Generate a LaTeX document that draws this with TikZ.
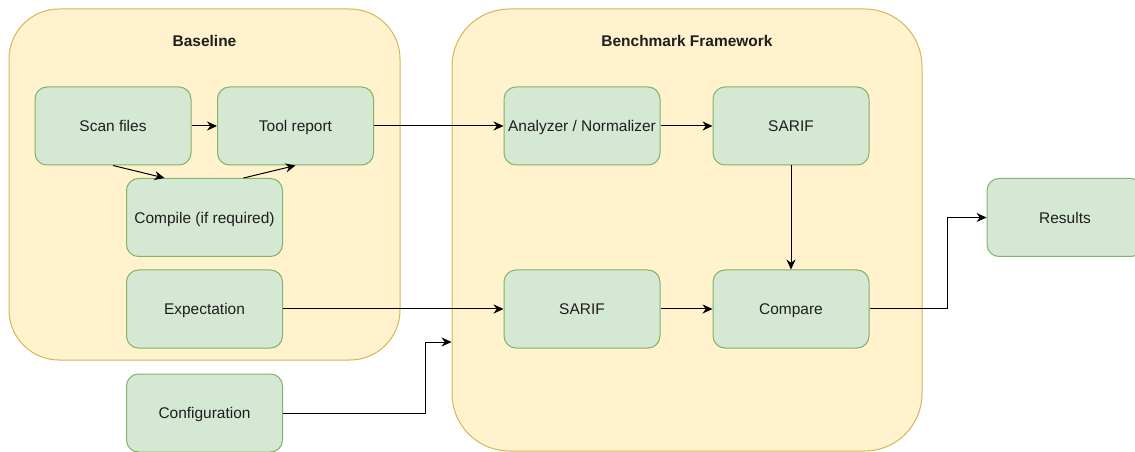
\documentclass[tikz,border=0pt]{standalone}
\usepackage{fontspec}
\setmainfont{Liberation Sans}
\usetikzlibrary{arrows.meta,calc}

\definecolor{groupfill}{HTML}{FFF2CC}
\definecolor{groupline}{HTML}{D6B656}
\definecolor{stepfill}{HTML}{D5E8D4}
\definecolor{stepline}{HTML}{82B366}
\definecolor{ink}{HTML}{1E1E1E}

\tikzset{
  group/.style={draw=groupline, fill=groupfill, line width=0.75pt,
    rectangle, inner sep=0pt},
  grouptitle/.style={font=\fontsize{11.6}{14}\selectfont\bfseries, text=ink,
    text height=10pt, text depth=1.4pt, inner sep=0pt},
  stepbox/.style={draw=stepline, fill=stepfill, line width=0.75pt,
    rectangle, rounded corners=9pt, minimum width=117pt,
    minimum height=58.5pt, inner sep=0pt,
    text height=10pt, text depth=1.4pt,
    font=\fontsize{11.6}{14}\selectfont, text=ink},
  arr/.style={draw=black, line width=0.75pt,
    -{Stealth[length=7.5pt,width=6.8pt]}},
}

\begin{document}
\begin{tikzpicture}[x=0.75pt,y=-0.75pt]
  \useasboundingbox (0,0) rectangle (1135,452);
  \clip (0,0) rectangle (1135,452);

  % containers
  \node[group, rounded corners=37.5pt, minimum width=293.25pt,
        minimum height=263.25pt] (baseline) at (204.5,184.5) {};
  \node[group, rounded corners=43pt, minimum width=352.5pt,
        minimum height=331.5pt] (bench) at (687,230) {};
  \node[grouptitle] (baselinetitle) at (204.5,41) {Baseline};
  \node[grouptitle] (benchtitle) at (687,41) {Benchmark Framework};

  % steps
  \node[stepbox] (scan)     at (113,126)   {Scan files};
  \node[stepbox] (tool)     at (295.5,126) {Tool report};
  \node[stepbox] (compile)  at (204.5,217.5) {Compile (if required)};
  \node[stepbox] (expect)   at (204.5,309) {Expectation};
  \node[stepbox] (config)   at (204.5,413) {Configuration};
  \node[stepbox] (analyzer) at (582,126)   {Analyzer / Normalizer};
  \node[stepbox] (sarifa)   at (791,126)   {SARIF};
  \node[stepbox] (sarifb)   at (582,309)   {SARIF};
  \node[stepbox] (compare)  at (791,309)   {Compare};
  \node[stepbox] (results)  at (1065,217.5) {Results};

  % entry point of the configuration into the framework
  \coordinate (benchin) at (bench.west |- 0,342);

  % connectors
  \draw[arr] (scan) -- (tool);
  \draw[arr] (scan.south) -- ($(compile.north)+(-40,0)$);
  \draw[arr] ($(compile.north)+(39,0)$) -- (tool.south);
  \draw[arr] (tool) -- (analyzer);
  \draw[arr] (analyzer) -- (sarifa);
  \draw[arr] (sarifa) -- (compare);
  \draw[arr] (expect) -- (sarifb);
  \draw[arr] (sarifb) -- (compare);
  \draw[arr] (compare.east) -| ($(results.west)+(-39,0)$) -- (results.west);
  \draw[arr] (config.east) -| ($(benchin)+(-26,0)$) -- (benchin);
\end{tikzpicture}
\end{document}
